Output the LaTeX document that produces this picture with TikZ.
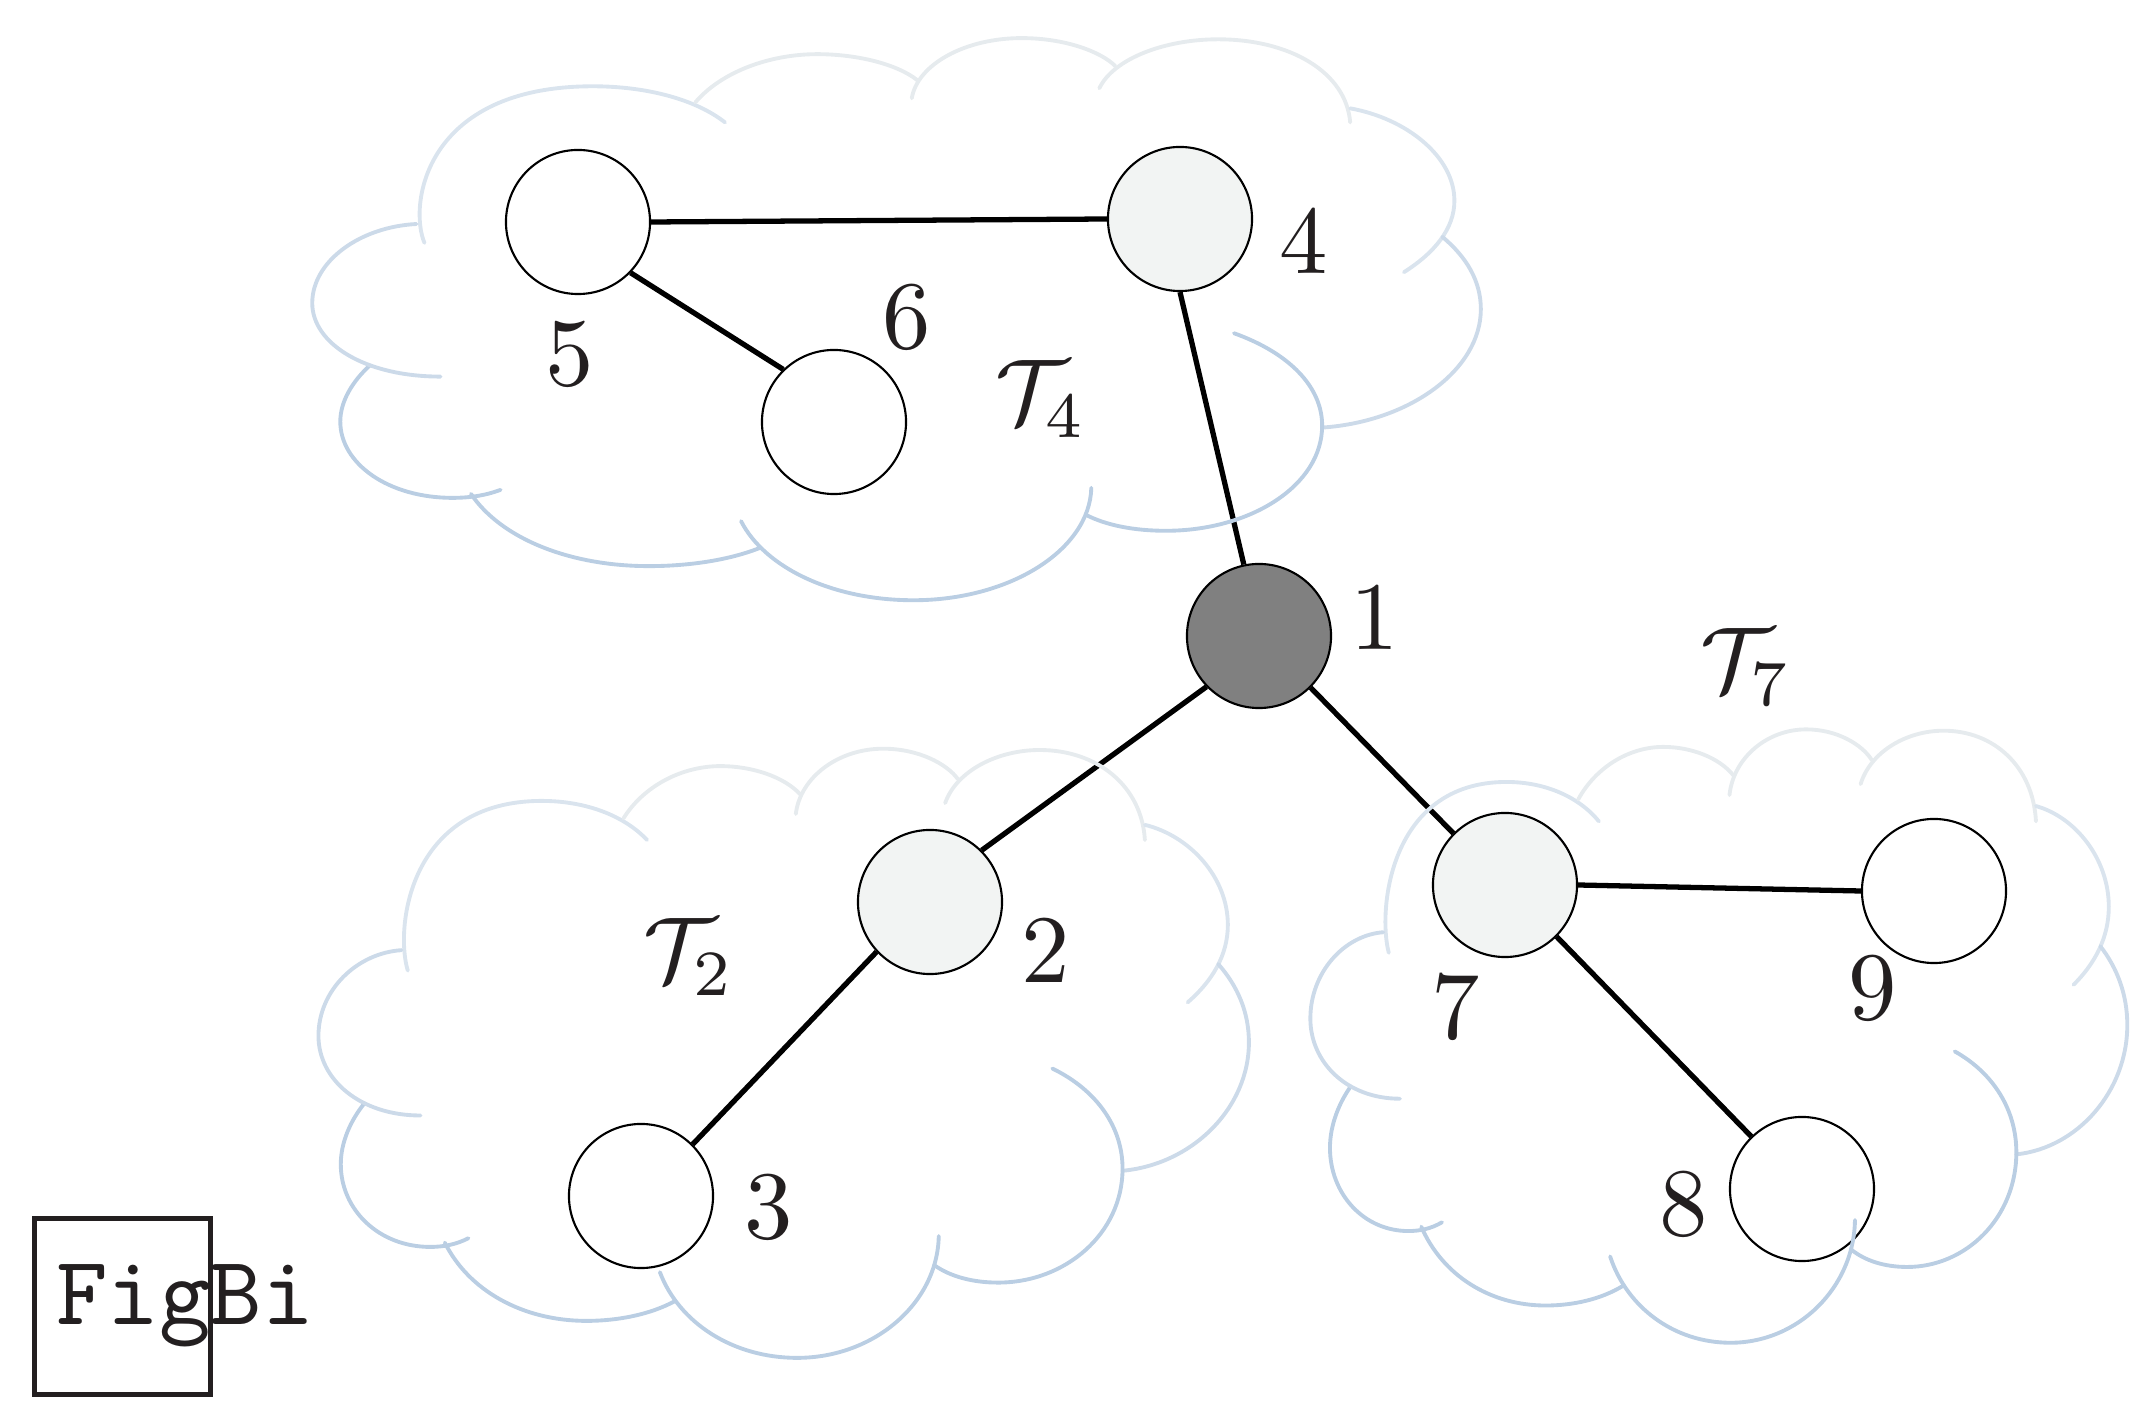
\documentclass[tikz,border=0pt]{standalone}
\definecolor{inkc}{HTML}{231F20}
\definecolor{pale}{HTML}{F2F4F3}
\definecolor{dark}{HTML}{808080}
\definecolor{ctop}{HTML}{E6EBEE}
\definecolor{cmid}{HTML}{DAE4EE}
\definecolor{cside}{HTML}{CCDAE9}
\definecolor{clow}{HTML}{BACEE3}
\tikzset{
  vertex/.style={circle,draw=black,line width=0.6pt,minimum size=1.44cm,inner sep=0pt,fill=white},
  paleV/.style={vertex,fill=pale},
  darkV/.style={vertex,fill=dark},
  edgeL/.style={line width=1.5pt,black},
  numL/.style={scale=2.75,text=inkc,inner sep=0pt},
  calL/.style={scale=2.62,text=inkc,inner sep=0pt},
  arcL/.style={line width=1.1pt,line cap=round}
}
\newcommand{\cloudarcs}{%
  \draw[arcL,cmid] (200,575) .. controls (180,480) and (200,185) .. (410,185) .. controls (480,185) and (540,220) .. (575,275);
  \draw[arcL,ctop] (538,225) .. controls (570,150) and (630,105) .. (690,105) .. controls (740,105) and (790,130) .. (815,170);
  \draw[arcL,ctop] (808,215) .. controls (815,130) and (875,65) .. (945,65) .. controls (1000,65) and (1045,100) .. (1062,135);
  \draw[arcL,ctop] (1042,190) .. controls (1060,115) and (1125,68) .. (1190,68) .. controls (1280,68) and (1350,150) .. (1355,275);
  \draw[arcL,cmid] (1355,240) .. controls (1425,265) and (1485,360) .. (1485,470) .. controls (1485,540) and (1460,600) .. (1422,648);
  \draw[arcL,cside] (1470,560) .. controls (1500,610) and (1518,670) .. (1518,740) .. controls (1518,890) and (1430,1020) .. (1320,1035);
  \draw[arcL,clow] (1210,800) .. controls (1280,850) and (1320,935) .. (1320,1030) .. controls (1320,1180) and (1230,1292) .. (1125,1292) .. controls (1085,1292) and (1050,1278) .. (1025,1252);
  \draw[arcL,clow] (1032,1185) .. controls (1030,1340) and (930,1465) .. (810,1465) .. controls (710,1465) and (625,1385) .. (595,1268);
  \draw[arcL,clow] (618,1335) .. controls (580,1365) and (530,1380) .. (480,1380) .. controls (380,1380) and (295,1310) .. (258,1200);
  \draw[arcL,clow] (295,1190) .. controls (275,1205) and (255,1210) .. (235,1210) .. controls (155,1210) and (95,1125) .. (95,1020) .. controls (95,970) and (110,920) .. (132,880);
  \draw[arcL,cside] (220,908) .. controls (125,908) and (60,825) .. (60,725) .. controls (60,620) and (120,535) .. (190,528);
}
\begin{document}
\begin{tikzpicture}[x=0.01cm,y=-0.01cm]
\useasboundingbox (0,0) rectangle (2150,1419);
% vertices
\node[darkV] (n1) at (1259,636) {};
\node[paleV] (n2) at (930,902) {};
\node[vertex] (n3) at (641,1196) {};
\node[paleV] (n4) at (1180,219) {};
\node[vertex] (n5) at (578,222) {};
\node[vertex] (n6) at (834,422) {};
\node[paleV] (n7) at (1505,885) {};
\node[vertex] (n8) at (1802,1189) {};
\node[vertex] (n9) at (1934,891) {};
% edges
\draw[edgeL] (n5.0) -- (n4.180);
\draw[edgeL] (n5.-44.5) -- (n6.134);
\draw[edgeL] (n4.-90) -- (n1.102);
\draw[edgeL] (n1.224) -- (n2.45);
\draw[edgeL] (n2.223) -- (n3.45);
\draw[edgeL] (n1.-45) -- (n7.135);
\draw[edgeL] (n7.0) -- (n9.180);
\draw[edgeL] (n7.-45) -- (n8.134);
% clouds
\begin{scope}[shift={(2.64cm,-0.12cm)},x=0.00801cm,y=-0.00401cm]\cloudarcs\end{scope}
\begin{scope}[shift={(2.80cm,-7.20cm)},x=0.00638cm,y=-0.00435cm]\cloudarcs\end{scope}
\begin{scope}[shift={(12.76cm,-7.005cm)},x=0.005607cm,y=-0.004386cm]\cloudarcs\end{scope}
% labels
\node[numL] (l1) at (1375,617) {1};
\node[numL] (l2) at (1046,950) {2};
\node[numL] (l3) at (769,1207) {3};
\node[numL] (l4) at (1304,241) {4};
\node[numL] (l5) at (570,354) {5};
\node[numL] (l6) at (907,317) {6};
\node[numL] (l7) at (1456,1007) {7};
\node[numL] (l8) at (1684,1204) {8};
\node[numL] (l9) at (1873,988) {9};
\node[calL] (t4) at (1041,399) {$\mathcal{T}_4$};
\node[calL] (t2) at (689,957) {$\mathcal{T}_2$};
\node[calL] (t7) at (1746,667) {$\mathcal{T}_7$};
% watermark
\node[draw=inkc,line width=1.3pt,minimum size=1.76cm,inner sep=0pt] (box) at (122.5,1306.5) {};
\node[anchor=base,inner sep=0pt,text=inkc,scale=2.79] (fig) at (185,1325) {\ttfamily FigBi};
\end{tikzpicture}
\end{document}
